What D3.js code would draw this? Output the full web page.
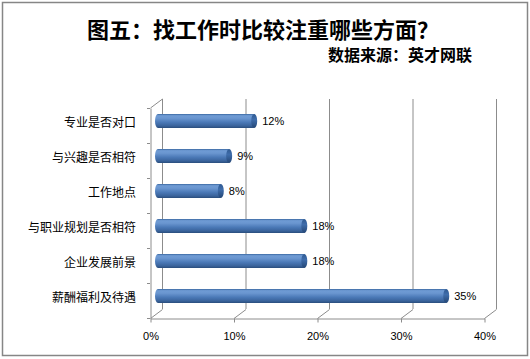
<!DOCTYPE html>
<html><head><meta charset="utf-8">
<script src="https://cdn.jsdelivr.net/npm/d3@7"></script>
<style>body{margin:0;background:#fff}svg{display:block}</style>
</head><body>
<svg id="c" width="530" height="359"></svg>
<script>
const categories = ["专业是否对口","与兴趣是否相符","工作地点","与职业规划是否相符","企业发展前景","薪酬福利及待遇"];
const values = [0.12,0.09,0.08,0.18,0.18,0.35];
const valueLabels = ["12%","9%","8%","18%","18%","35%"];
const tickValues = [0,0.1,0.2,0.3,0.4];
const titleText = "图五：找工作时比较注重哪些方面？";
const subtitleText = "数据来源：英才网联";

(function(){
const svg = d3.select("#c");
svg.append("rect").attr("x",2.5).attr("y",2.5).attr("width",525).attr("height",353)
  .attr("fill","#fff").attr("stroke","#868686").attr("stroke-width",1.5);

const x = d3.scaleLinear().domain([0,0.4]).range([150,484]);
const y = d3.scaleBand().domain(categories).range([108,318]).padding(0);
const dx = 12, dy = -9;
const plotTop = 108, plotBottom = 318;
const gridColor = "#8c8c8c";

svg.append("g").selectAll("line").data(tickValues).join("line")
  .attr("x1",d=>x(d)+dx+0.5).attr("x2",d=>x(d)+dx+0.5)
  .attr("y1",plotTop+dy).attr("y2",plotBottom+dy)
  .attr("stroke",gridColor).attr("stroke-width",1);
svg.append("g").selectAll("line").data(tickValues).join("line")
  .attr("x1",d=>x(d)+0.5).attr("x2",d=>x(d)+dx+0.5)
  .attr("y1",plotBottom+0.5).attr("y2",plotBottom+dy+0.5)
  .attr("stroke",gridColor).attr("stroke-width",1);
svg.append("line").attr("x1",x(0)+0.5).attr("y1",plotTop).attr("x2",x(0)+dx+0.5).attr("y2",plotTop+dy)
  .attr("stroke",gridColor);

const yAxis = d3.axisLeft(y).tickValues([]).tickSizeOuter(0);
const yg = svg.append("g").attr("transform",`translate(${x(0)+0.5},0)`).call(yAxis);
yg.select(".domain").attr("stroke",gridColor);
const tickYs = d3.range(categories.length+1).map(i=>plotTop + i*y.bandwidth());
svg.append("g").selectAll("line").data(tickYs).join("line")
  .attr("x1",x(0)-3).attr("x2",x(0)).attr("y1",d=>d+0.5).attr("y2",d=>d+0.5)
  .attr("stroke",gridColor);
svg.append("g").selectAll("text").data(categories).join("text")
  .attr("x",136).attr("y",d=>y(d)+y.bandwidth()/2+dy/2)
  .attr("text-anchor","end").attr("dominant-baseline","central")
  .attr("font-family","'Noto Sans CJK SC', sans-serif").attr("font-size",12).attr("fill","#000")
  .text(d=>d);

const xAxis = d3.axisBottom(x).tickValues(tickValues).tickFormat(d3.format(".0%"))
  .tickSize(4).tickSizeOuter(0).tickPadding(10);
const xg = svg.append("g").attr("transform",`translate(0.5,${plotBottom+0.5})`).call(xAxis);
xg.select(".domain").attr("stroke",gridColor);
xg.selectAll(".tick line").attr("stroke",gridColor);
xg.selectAll(".tick text").attr("font-family","'Liberation Sans', Arial, sans-serif").attr("font-size",11).attr("fill","#000");

const defs = svg.append("defs");
const g1 = defs.append("linearGradient").attr("id","cyl").attr("x1",0).attr("y1",0).attr("x2",0).attr("y2",1);
[[0,"#3a67a0"],[0.12,"#6f9bd4"],[0.3,"#6a96d0"],[0.6,"#4a78b6"],[0.85,"#3a639b"],[1,"#294d7c"]]
  .forEach(([o,c])=>g1.append("stop").attr("offset",o).attr("stop-color",c));
const g2 = defs.append("linearGradient").attr("id","cap").attr("x1",0).attr("y1",0).attr("x2",0).attr("y2",1);
[[0,"#2f5a92"],[0.4,"#3f6dab"],[1,"#244675"]]
  .forEach(([o,c])=>g2.append("stop").attr("offset",o).attr("stop-color",c));

const barH = 14, rx = 3;
const bars = svg.append("g").selectAll("g").data(categories).join("g");
bars.append("rect")
  .attr("x",x(0)+dx/2-1).attr("y",d=>y(d)+y.bandwidth()/2+dy/2-barH/2)
  .attr("width",(d,i)=>x(values[i])-x(0)+1).attr("height",barH)
  .attr("rx",rx).attr("ry",barH/2)
  .attr("fill","url(#cyl)");
bars.append("ellipse")
  .attr("cx",(d,i)=>x(values[i])+dx/2-rx+1).attr("cy",d=>y(d)+y.bandwidth()/2+dy/2)
  .attr("rx",rx).attr("ry",barH/2)
  .attr("fill","url(#cap)");

svg.append("g").selectAll("text").data(categories).join("text")
  .attr("x",(d,i)=>x(values[i])+12).attr("y",d=>y(d)+y.bandwidth()/2+dy/2)
  .attr("dominant-baseline","central")
  .attr("font-family","'Liberation Sans', Arial, sans-serif").attr("font-size",11).attr("fill","#000")
  .text((d,i)=>valueLabels[i]);

svg.append("text").attr("x",263).attr("y",28).attr("text-anchor","middle").attr("dominant-baseline","central")
  .attr("font-family","'Noto Sans CJK SC', sans-serif").attr("font-weight","bold").attr("font-size",22)
  .text(titleText);
svg.append("text").attr("x",472).attr("y",54).attr("text-anchor","end").attr("dominant-baseline","central")
  .attr("font-family","'Noto Sans CJK SC', sans-serif").attr("font-weight","bold").attr("font-size",16)
  .text(subtitleText);
})();
</script>
</body></html>
